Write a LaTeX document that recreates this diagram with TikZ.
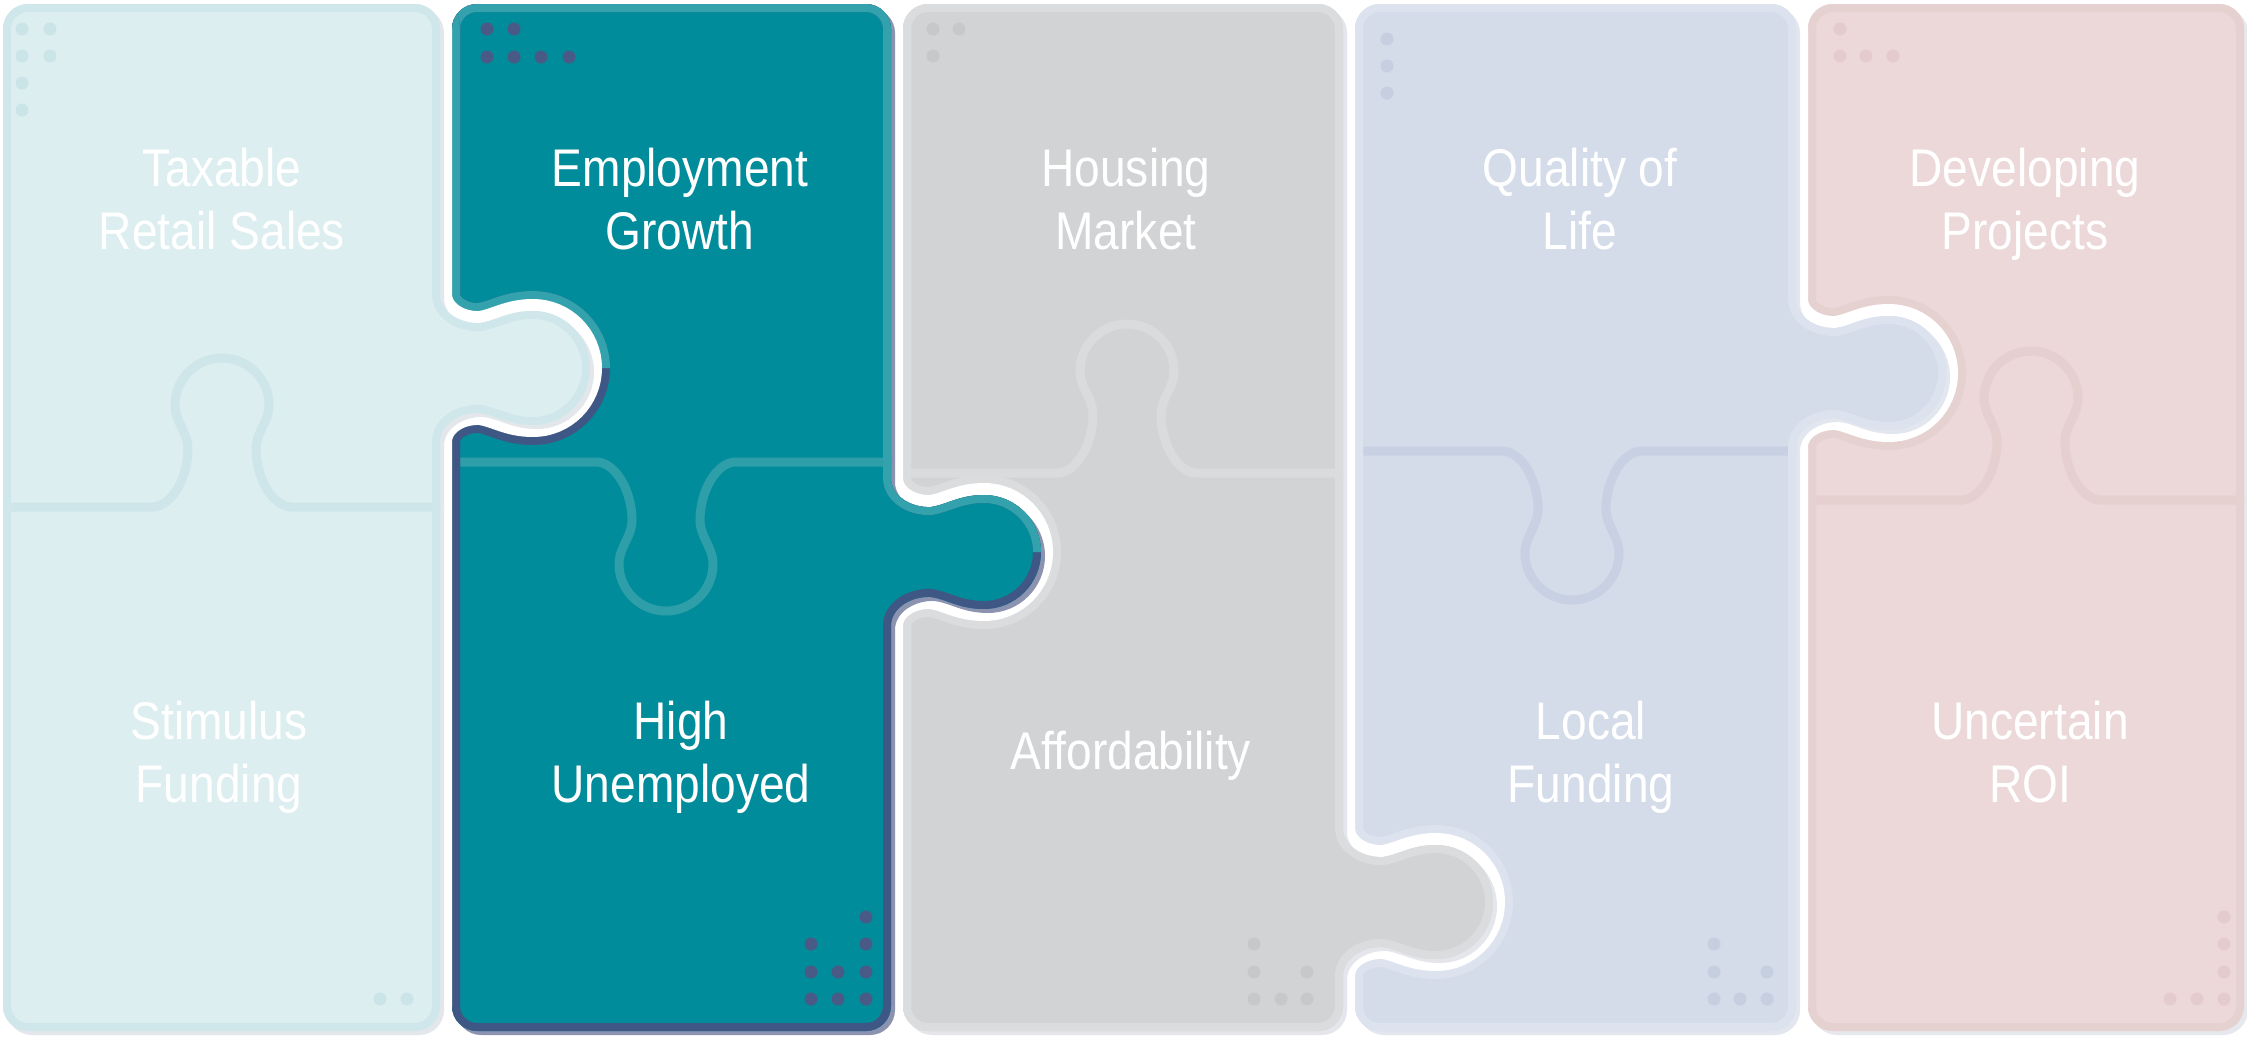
\documentclass[tikz,border=0pt]{standalone}
\usepackage{fontspec}
\newfontfamily\lab{Liberation Sans}[FakeStretch=0.87]
\definecolor{c1f}{HTML}{DCEEF0}\definecolor{c1b}{HTML}{CFE7EA}\definecolor{c1d}{HTML}{CEE6E9}\definecolor{c1dot}{HTML}{CBE4E7}\definecolor{c1s}{HTML}{E3E6EB}
\definecolor{c2f}{HTML}{008C9A}\definecolor{c2l}{HTML}{33A2AC}\definecolor{c2n}{HTML}{3F5784}\definecolor{c2d}{HTML}{2E9FA9}\definecolor{c2dot}{HTML}{4A5A86}\definecolor{c2s}{HTML}{8C93B0}
\definecolor{c3f}{HTML}{D2D3D5}\definecolor{c3b}{HTML}{DBDCDE}\definecolor{c3d}{HTML}{DADBDD}\definecolor{c3dot}{HTML}{C7C8CA}\definecolor{c3s}{HTML}{E4E6EB}
\definecolor{c4f}{HTML}{D4DBE9}\definecolor{c4b}{HTML}{DCE2EE}\definecolor{c4d}{HTML}{C8D1E3}\definecolor{c4dot}{HTML}{C6CFE0}\definecolor{c4s}{HTML}{E2E6EE}
\definecolor{c5f}{HTML}{ECD8D8}\definecolor{c5b}{HTML}{E6D1D1}\definecolor{c5d}{HTML}{E5CFCF}\definecolor{c5dot}{HTML}{E4CCCC}\definecolor{c5s}{HTML}{E6E8EE}
% tab on a right edge E, centred at c (y grows downward)
\newcommand\tabR[2]{-- (#1,{#2-74}) .. controls (#1,{#2-56}) and ({#1+20},{#2-44}) .. ({#1+40},{#2-45}) .. controls ({#1+55},{#2-47}) and ({#1+68},{#2-57}) .. ({#1+93},{#2-57}) arc[start angle=-90,end angle=90,radius=57] .. controls ({#1+68},{#2+57}) and ({#1+55},{#2+47}) .. ({#1+40},{#2+45}) .. controls ({#1+20},{#2+44}) and (#1,{#2+56}) .. (#1,{#2+74})}
\newcommand\colP[3]{(#1,29) arc[start angle=180,end angle=270,radius=25] -- ({#2-25},4) arc[start angle=270,end angle=360,radius=25] \tabR{#2}{#3} -- (#2,1006) arc[start angle=0,end angle=90,radius=25] -- ({#1+25},1031) arc[start angle=90,end angle=180,radius=25] -- cycle}
\newcommand\colQ[2]{(#1,29) arc[start angle=180,end angle=270,radius=25] -- ({#2-25},4) arc[start angle=270,end angle=360,radius=25] -- (#2,1006) arc[start angle=0,end angle=90,radius=25] -- ({#1+25},1031) arc[start angle=90,end angle=180,radius=25] -- cycle}
\newcommand\knobU[2]{.. controls ({#1-50},#2) and ({#1-34},{#2-30}) .. ({#1-34},{#2-58}) .. controls ({#1-34},{#2-75}) and ({#1-47},{#2-85}) .. ({#1-47},{#2-102}) arc[start angle=180,end angle=360,radius=47] .. controls ({#1+47},{#2-85}) and ({#1+34},{#2-75}) .. ({#1+34},{#2-58}) .. controls ({#1+34},{#2-30}) and ({#1+50},#2) .. ({#1+70},#2)}
\newcommand\knobD[2]{.. controls ({#1-50},#2) and ({#1-34},{#2+30}) .. ({#1-34},{#2+58}) .. controls ({#1-34},{#2+75}) and ({#1-47},{#2+85}) .. ({#1-47},{#2+102}) arc[start angle=180,end angle=0,radius=47] .. controls ({#1+47},{#2+85}) and ({#1+34},{#2+75}) .. ({#1+34},{#2+58}) .. controls ({#1+34},{#2+30}) and ({#1+50},#2) .. ({#1+70},#2)}
\tikzset{
  lbl/.style={font=\lab\fontsize{53}{63}\selectfont, text=white, align=center, inner sep=0pt, anchor=north},
  gapline/.style={white, line width=24pt},
  bandline/.style={line width=40pt},
  rimline/.style={line width=16pt},
  divline/.style={line width=9pt},
  shadowshift/.style={shift={(4,4)}}
}
\begin{document}
\begin{tikzpicture}[x=1pt,y=-1pt]
\useasboundingbox (0,0) rectangle (2247,1039);
\fill[white] (0,0) rectangle (2247,1039);

% ---------- column 5 ----------
\fill[c5s, shadowshift] \colQ{1808}{2244};
\fill[c5f] \colQ{1808}{2244};
\begin{scope}
  \clip \colQ{1808}{2244};
  \draw[c5d, divline] (1790,500) -- (1961,500) \knobU{2031}{500} -- (2260,500);
  \draw[c5b, rimline] \colQ{1808}{2244};
\end{scope}
\foreach \p in {(1840,29),(1840,56),(1866,56),(1893,56),(2224,917),(2224,944),(2224,972),(2170,999),(2197,999),(2224,999)}
  \fill[c5dot] \p circle[radius=6.5];
\node[lbl] (t5) at (2025,148) {Developing\\Projects};
\node[lbl] (b5) at (2030,701) {Uncertain\\ROI};

% ---------- column 4 ----------
\begin{scope}
  \clip \colQ{1808}{2244};
  \draw[c5b, bandline] \colP{1355}{1796}{373};
\end{scope}
\draw[gapline] \colP{1355}{1796}{373};
\fill[c4s, shadowshift] \colP{1355}{1796}{373};
\fill[c4f] \colP{1355}{1796}{373};
\begin{scope}
  \clip \colP{1355}{1796}{373};
  \draw[c4d, divline] (1340,451) -- (1502,451) \knobD{1572}{451} -- (1810,451);
  \draw[c4b, rimline] \colP{1355}{1796}{373};
\end{scope}
\foreach \p in {(1387,39),(1387,66),(1387,93),(1714,944),(1714,972),(1767,972),(1714,999),(1740,999),(1767,999)}
  \fill[c4dot] \p circle[radius=6.5];
\node[lbl] (t4) at (1580,148) {Quality of\\Life};
\node[lbl] (b4) at (1591,701) {Local\\Funding};

% ---------- column 3 ----------
\begin{scope}
  \clip \colP{1355}{1796}{373};
  \draw[c4b, bandline] \colP{903}{1343}{902};
\end{scope}
\draw[gapline] \colP{903}{1343}{902};
\fill[c3s, shadowshift] \colP{903}{1343}{902};
\fill[c3f] \colP{903}{1343}{902};
\begin{scope}
  \clip \colP{903}{1343}{902};
  \draw[c3d, divline] (890,473) -- (1057,473) \knobU{1127}{473} -- (1360,473);
  \draw[c3b, rimline] \colP{903}{1343}{902};
\end{scope}
\foreach \p in {(933,29),(959,29),(933,56),(1254,944),(1254,972),(1307,972),(1254,999),(1281,999),(1307,999)}
  \fill[c3dot] \p circle[radius=6.5];
\node[lbl] (t3) at (1126,148) {Housing\\Market};
\node[lbl] (b3) at (1131,731) {Affordability};

% ---------- column 2 ----------
\begin{scope}
  \clip \colP{903}{1343}{902};
  \draw[c3b, bandline] \colP{452}{891}{552};
\end{scope}
\draw[gapline] \colP{452}{891}{552};
\fill[c2s, shadowshift] \colP{452}{891}{552};
\fill[c2f] \colP{452}{891}{552};
\begin{scope}
  \clip \colP{452}{891}{552};
  \draw[c2d, divline] (440,462) -- (596,462) \knobD{666}{462} -- (905,462);
  \draw[c2n, rimline] \colP{452}{891}{552};
  \clip (400,-20) -- (400,368) -- (640,368) -- (850,552) -- (1100,552) -- (1100,-20) -- cycle;
  \draw[c2l, rimline] \colP{452}{891}{552};
\end{scope}
\foreach \p in {(487,29),(514,29),(487,57),(514,57),(541,57),(569,57),(866,917),(811,944),(866,944),(811,972),(838,972),(866,972),(811,999),(838,999),(866,999)}
  \fill[c2dot] \p circle[radius=6.5];
\node[lbl] (t2) at (680,148) {Employment\\Growth};
\node[lbl] (b2) at (681,701) {High\\Unemployed};

% ---------- column 1 ----------
\begin{scope}
  \clip \colP{452}{891}{552};
  \draw[c2n, bandline] \colP{3}{440}{368};
  \clip (400,-20) -- (400,368) -- (640,368) -- (850,552) -- (1100,552) -- (1100,-20) -- cycle;
  \draw[c2l, bandline] \colP{3}{440}{368};
\end{scope}
\draw[gapline] \colP{3}{440}{368};
\fill[c1s, shadowshift] \colP{3}{440}{368};
\fill[c1f] \colP{3}{440}{368};
\begin{scope}
  \clip \colP{3}{440}{368};
  \draw[c1d, divline] (-10,507) -- (152,507) \knobU{222}{507} -- (460,507);
  \draw[c1b, rimline] \colP{3}{440}{368};
\end{scope}
\foreach \p in {(22,29),(50,29),(22,56),(50,56),(22,83),(22,110),(380,999),(407,999)}
  \fill[c1dot] \p circle[radius=6.5];
\node[lbl] (t1) at (222,148) {Taxable\\Retail Sales};
\node[lbl] (b1) at (219,701) {Stimulus\\Funding};
\end{tikzpicture}
\end{document}
